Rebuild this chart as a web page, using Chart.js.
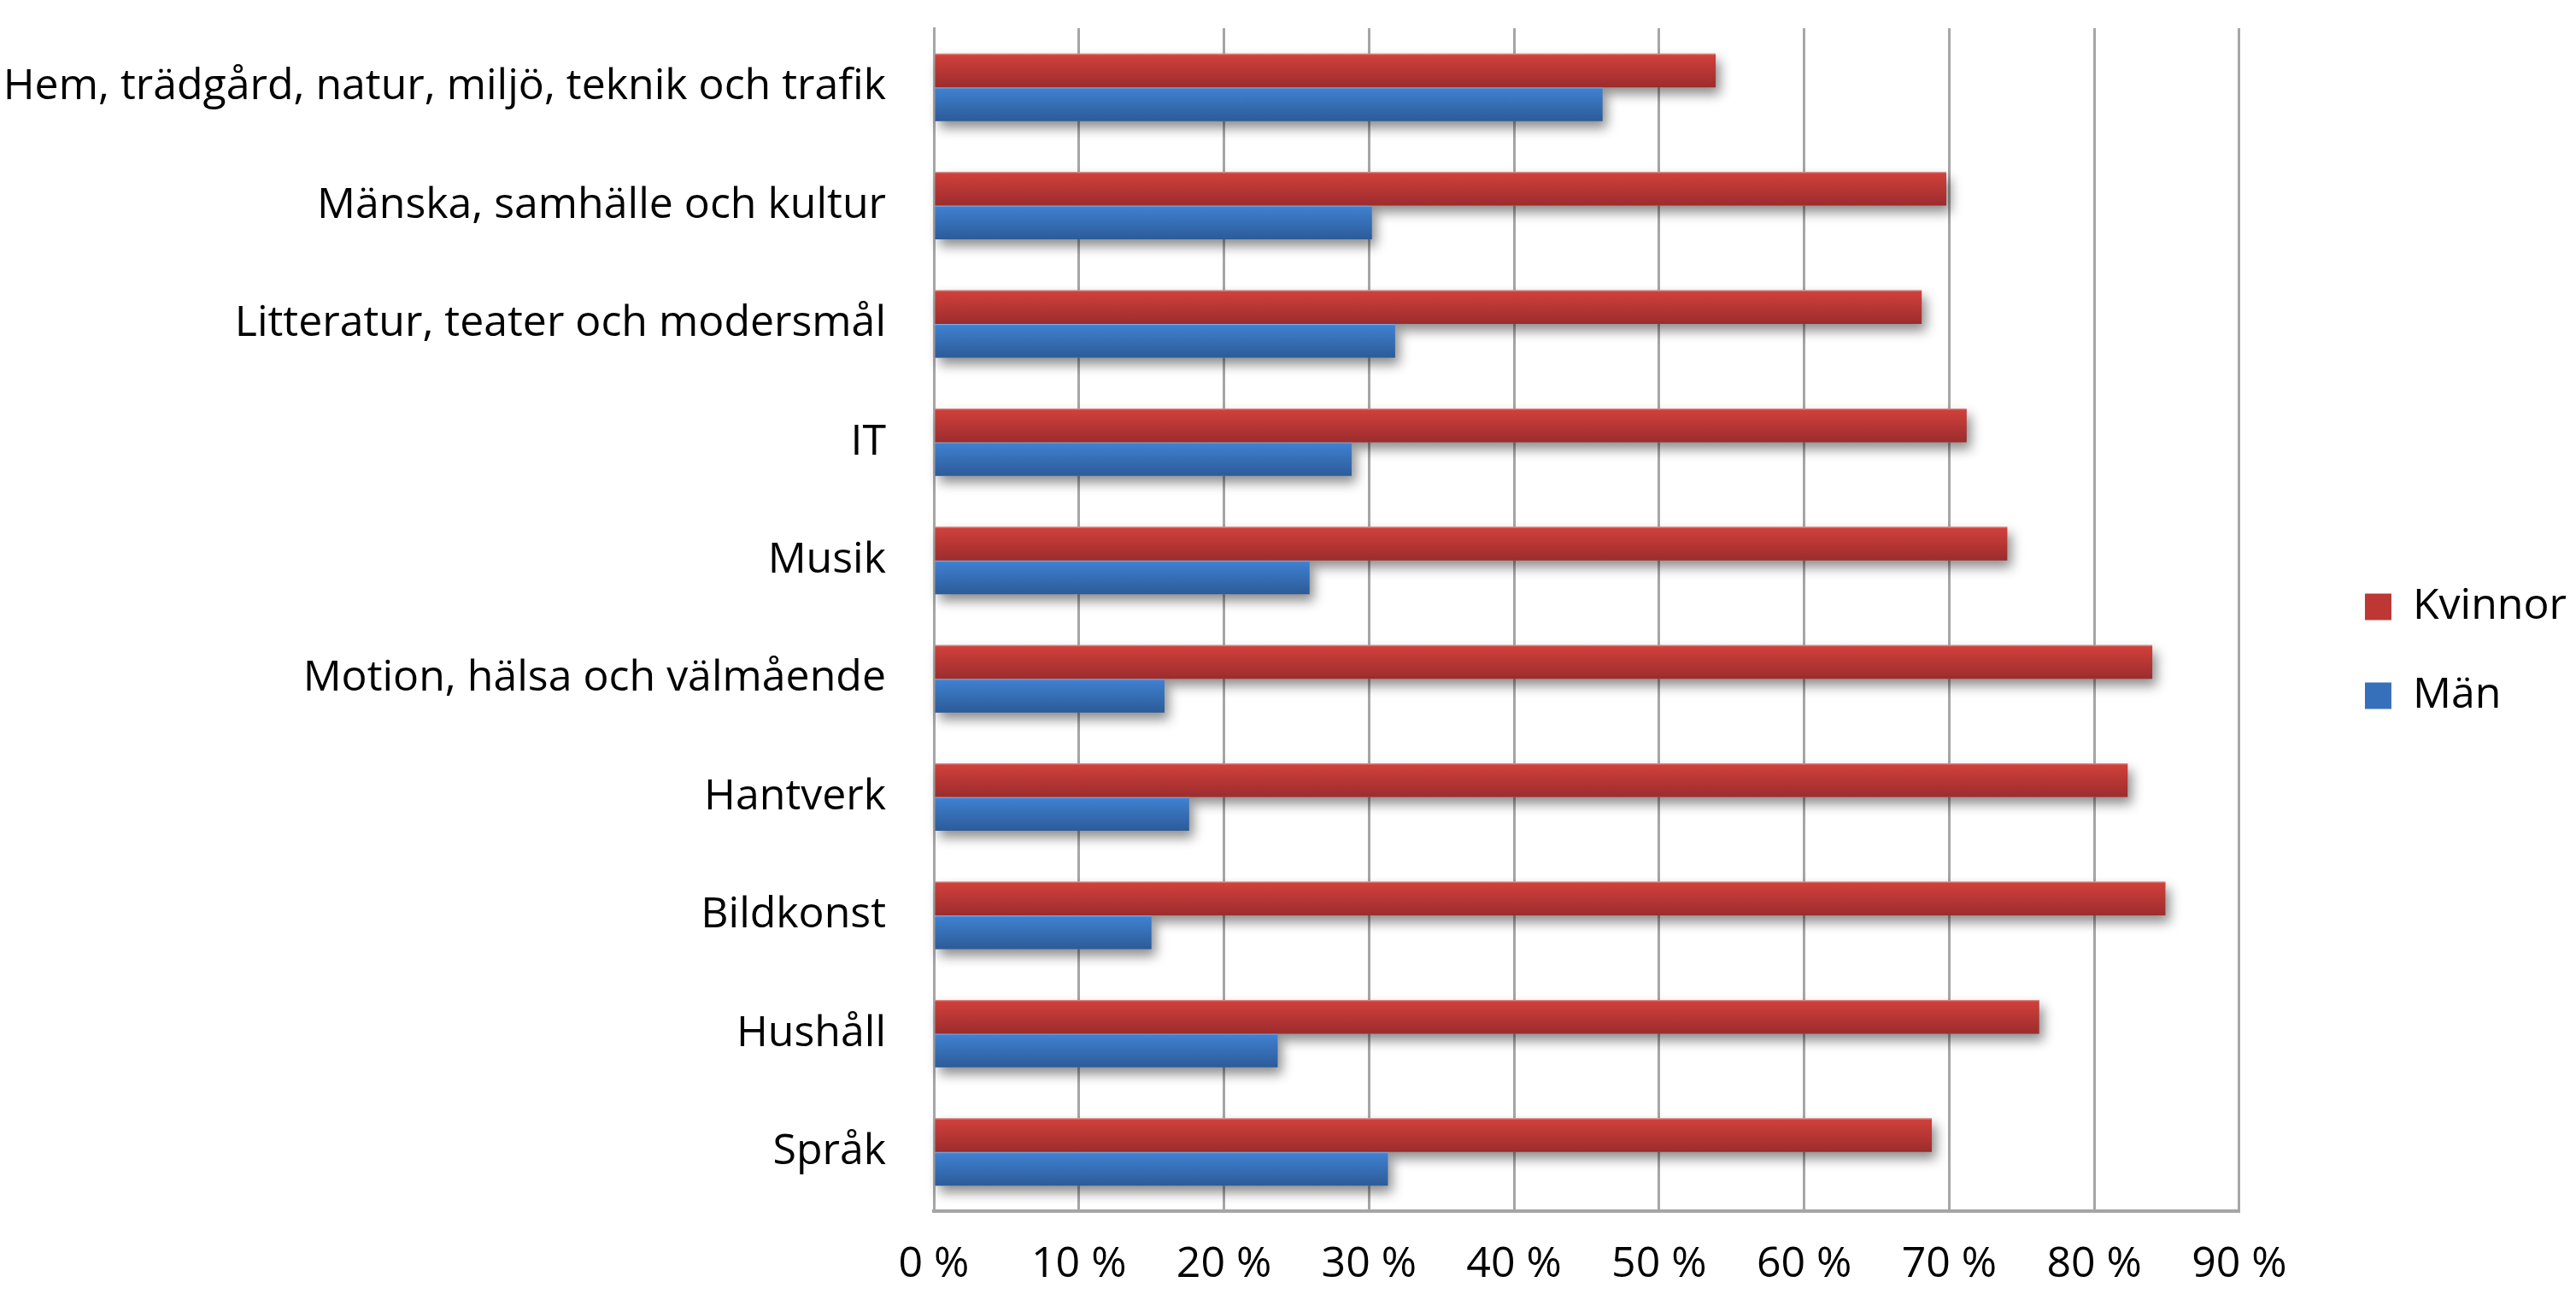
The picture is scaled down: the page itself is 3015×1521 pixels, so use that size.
<!DOCTYPE html>
<html lang="sv">
<head>
<meta charset="utf-8">
<title>Kvinnor och män per ämnesområde</title>
<script src="https://cdn.jsdelivr.net/npm/chart.js@4.4.1/dist/chart.umd.min.js"></script>
<style>
  html, body { margin: 0; padding: 0; background: #fff; }
  #wrap { width: 3015px; height: 1521px; }
</style>
</head>
<body>
<div id="wrap"><canvas id="chart" width="3015" height="1521"></canvas></div>
<script>
// data, top category first
const categories = [
    'Hem, trädgård, natur, miljö, teknik och trafik',
    'Mänska, samhälle och kultur',
    'Litteratur, teater och modersmål',
    'IT',
    'Musik',
    'Motion, hälsa och välmående',
    'Hantverk',
    'Bildkonst',
    'Hushåll',
    'Språk'
];
const kvinnor = [53.9, 69.8, 68.1, 71.2, 74.0, 84.0, 82.3, 84.9, 76.2, 68.8];
const man     = [46.1, 30.2, 31.8, 28.8, 25.9, 15.9, 17.6, 15.0, 23.7, 31.3];
const xTicks  = [0, 10, 20, 30, 40, 50, 60, 70, 80, 90];

const FONT = "'Open Sans', 'Liberation Sans', sans-serif";
const gridGrey = '#a6a6a6';

// gradient look per series (top edge, top, bottom)
const shades = [
    { edge: '#e39a97', top: '#d0403b', bottom: '#9c2c2d', flat: '#bd3734' },
    { edge: '#8fb4e3', top: '#3f80d0', bottom: '#2c5b98', flat: '#3670bb' }
];

const barLook = {
    id: 'barLook',
    beforeDatasetsDraw(chart) {
        const ctx = chart.ctx;
        chart.data.datasets.forEach((ds, i) => {
            const meta = chart.getDatasetMeta(i);
            if (meta.hidden) return;
            meta.data.forEach(bar => {
                const { x, y, base, height } = bar.getProps(['x', 'y', 'base', 'height'], true);
                const top = y - height / 2;
                const g = ctx.createLinearGradient(0, top, 0, top + height);
                g.addColorStop(0, shades[i].edge);
                g.addColorStop(0.05, shades[i].top);
                g.addColorStop(1, shades[i].bottom);
                bar.options.backgroundColor = g;

                // soft drop shadow, the bars cover the rect itself
                ctx.save();
                ctx.shadowColor = 'rgba(0,0,0,0.45)';
                ctx.shadowBlur = 14;
                ctx.shadowOffsetX = 5;
                ctx.shadowOffsetY = 8;
                ctx.fillStyle = '#999';
                ctx.fillRect(Math.min(base, x), top, Math.abs(x - base), height);
                ctx.restore();
            });
        });
    }
};

const tickFont = { family: FONT, size: 50 };

new Chart(document.getElementById('chart'), {
    type: 'bar',
    data: {
        labels: categories,
        datasets: [
            { label: 'Kvinnor', data: kvinnor, backgroundColor: () => shades[0].flat, borderWidth: 0 },
            { label: 'Män', data: man, backgroundColor: () => shades[1].flat, borderWidth: 0 }
        ]
    },
    options: {
        indexAxis: 'y',
        responsive: false,
        devicePixelRatio: 1,
        animation: false,
        datasets: { bar: { categoryPercentage: 0.57, barPercentage: 1.0 } },
        layout: { padding: { top: 3, right: 1, bottom: 0, left: 0 } },
        plugins: {
            legend: {
                position: 'right',
                align: 'center',
                labels: { boxWidth: 31, boxHeight: 31, padding: 54, color: '#000', font: tickFont }
            },
            tooltip: { enabled: false }
        },
        scales: {
            x: {
                min: xTicks[0], max: xTicks[xTicks.length - 1],
                afterBuildTicks: s => { s.ticks = xTicks.map(v => ({ value: v })); },
                ticks: { callback: v => v + ' %', color: '#000', font: tickFont, padding: 33, maxRotation: 0 },
                grid: { color: gridGrey, lineWidth: 3, drawTicks: false },
                border: { color: gridGrey, width: 4 },
                afterFit: s => { s.height = 104; }
            },
            y: {
                ticks: { color: '#000', font: tickFont, padding: 56 },
                grid: { display: false, drawTicks: false },
                border: { color: gridGrey, width: 3 },
                afterFit: s => { s.width = 1093; s.paddingTop = 33; s.paddingBottom = 0; }
            },
            spacer: {
                type: 'linear',
                position: 'right',
                grid: { display: false, drawTicks: false },
                border: { display: false },
                ticks: { display: false },
                afterFit: s => { s.width = 93; }
            }
        }
    },
    plugins: [barLook]
});
</script>
</body>
</html>
